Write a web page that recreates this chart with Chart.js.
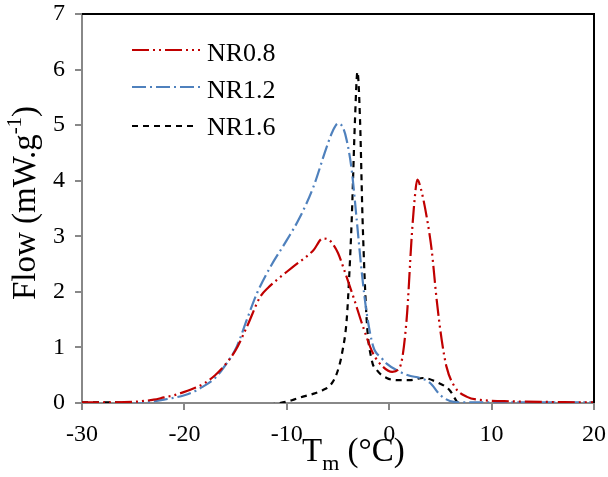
<!DOCTYPE html>
<html lang="en">
<head>
    <meta charset="UTF-8">
    <title>DSC flow curves</title>
    <script src="https://cdn.jsdelivr.net/npm/chart.js"></script>
    <style>
        body {
            margin: 0;
            background-color: white;
            font-family: 'Liberation Serif', serif;
        }
        #wrap {
            width: 608px;
            height: 477px;
        }
        .preload {
            position: absolute;
            left: -999px;
            top: 0;
            font-family: 'Liberation Serif';
        }
    </style>
</head>
<body>
    <div id="wrap"><canvas id="flowChart" width="608" height="477"></canvas></div>
    <span class="preload">NR0.8 Flow (mW.g) Tm (°C) -30 0 1</span>

    <script>
        // values
        const seriesNames = ['NR0.8', 'NR1.2', 'NR1.6'];

        const tempNR08 = [-30, -27, -25, -23, -22, -21, -20, -19, -18, -17, -16.2, -15, -13.9, -12.6, -11.8, -11, -9.4, -7.4, -6.5, -6,
            -5.5, -5, -4.5, -3.5, -2.55, -1.6, -0.6, 0.3, 1.05, 1.7, 2.2, 2.45, 2.75, 3.1, 3.66, 4.15, 4.64, 5.13, 5.6, 6.4,
            7.6, 9.2, 12, 15, 20];
        const flowNR08 = [0.01, 0.01, 0.02, 0.06, 0.1, 0.14, 0.2, 0.27, 0.36, 0.5, 0.65, 0.95, 1.37, 1.91, 2.08, 2.21, 2.45, 2.75, 2.96, 2.95,
            2.86, 2.7, 2.45, 1.91, 1.37, 0.9, 0.65, 0.56, 0.65, 1.5, 3.0, 3.6, 4.02, 3.85, 3.35, 2.75, 1.85, 1.13, 0.65, 0.29,
            0.11, 0.05, 0.03, 0.02, 0.01];

        const tempNR12 = [-30, -26, -24, -22, -20, -19, -18.5, -17, -16.2, -14.9, -13.9, -12.9, -11.6, -10, -8.7, -7.4, -6.1, -5.5, -5.0, -4.5,
            -4.15, -3.66, -3.17, -2.7, -2.2, -1.55, -0.8, -0.25, 1.05, 2.0, 3.0, 4.0, 5.0, 6.3, 8, 12, 20];
        const flowNR12 = [-0.02, -0.02, 0, 0.06, 0.14, 0.21, 0.26, 0.45, 0.63, 1.01, 1.5, 1.98, 2.45, 2.93, 3.35, 3.89, 4.61, 4.9, 5.03, 4.95,
            4.73, 4.19, 3.29, 2.39, 1.62, 1.01, 0.82, 0.71, 0.56, 0.49, 0.45, 0.36, 0.14, 0.02, 0.01, 0.01, 0.01];

        const tempNR16 = [-30, -27, -26, -25, -22, -18, -14, -11.5, -10.7, -9.5, -8.7, -7.5, -6.5, -5.7, -5.1, -4.6, -4.15, -3.9, -3.66, -3.34,
            -3.1, -2.85, -2.6, -2.2, -1.7, -1.2, -0.25, 1.05, 2.0, 3.3, 4.6, 5.9, 6.7, 7];
        const flowNR16 = [0.01, 0.01, 0, -0.03, -0.03, -0.03, -0.03, -0.02, 0, 0.05, 0.1, 0.16, 0.23, 0.33, 0.54, 0.9, 1.5, 2.3, 3.3, 5.1,
            5.96, 5.1, 3.3, 1.5, 0.77, 0.59, 0.45, 0.41, 0.41, 0.45, 0.38, 0.23, 0, -0.05];

        const xTicks = [-30, -20, -10, 0, 10, 20];
        const yTicks = [0, 1, 2, 3, 4, 5, 6, 7];

        const serif = '"Liberation Serif", "Times New Roman", Times, serif';
        const axisGrey = '#888888';

        function toPoints(xs, ys) {
            return xs.map((x, i) => ({ x: x, y: ys[i] }));
        }

        function makeSeries(label, xs, ys, color, dash) {
            return {
                label: label,
                data: toPoints(xs, ys),
                borderColor: color,
                backgroundColor: color,
                borderWidth: 2.2,
                borderDash: dash,
                pointRadius: 0,
                cubicInterpolationMode: 'monotone',
                fill: false
            };
        }

        // legend drawn inside the plot, like the original
        const insideLegend = {
            id: 'insideLegend',
            afterDatasetsDraw(chart) {
                const ctx = chart.ctx;
                const rows = [
                    { lineY: 50, textY: 61, x1: 132, x2: 200 },
                    { lineY: 87, textY: 98, x1: 132, x2: 200 },
                    { lineY: 126, textY: 135, x1: 132, x2: 194 }
                ];
                ctx.save();
                chart.data.datasets.forEach((ds, i) => {
                    const r = rows[i];
                    ctx.beginPath();
                    ctx.setLineDash(ds.borderDash);
                    ctx.strokeStyle = ds.borderColor;
                    ctx.lineWidth = 2.2;
                    ctx.moveTo(r.x1, r.lineY);
                    ctx.lineTo(r.x2, r.lineY);
                    ctx.stroke();
                    ctx.setLineDash([]);
                    ctx.fillStyle = '#000';
                    ctx.font = '26px ' + serif;
                    ctx.textAlign = 'left';
                    ctx.textBaseline = 'alphabetic';
                    ctx.fillText(ds.label, 207, r.textY);
                });
                ctx.restore();
            }
        };

        // top/right frame and axis titles with sub/superscripts
        const frameAndTitles = {
            id: 'frameAndTitles',
            afterDraw(chart) {
                const ctx = chart.ctx;
                const a = chart.chartArea;
                ctx.save();
                ctx.strokeStyle = '#000';
                ctx.lineWidth = 2;
                ctx.beginPath();
                ctx.moveTo(a.left, a.top);
                ctx.lineTo(a.right, a.top);
                ctx.lineTo(a.right, a.bottom);
                ctx.stroke();

                ctx.fillStyle = '#000';
                ctx.textBaseline = 'alphabetic';
                ctx.textAlign = 'left';

                // x title: T_m (°C)
                let x = 302;
                const base = 461;
                ctx.font = '33px ' + serif;
                ctx.fillText('T', x, base);
                x += ctx.measureText('T').width;
                ctx.font = '22px ' + serif;
                ctx.fillText('m', x, base + 9);
                x += ctx.measureText('m').width;
                ctx.font = '33px ' + serif;
                ctx.fillText(' (°C)', x, base);

                // y title: Flow (mW.g^-1), rotated
                ctx.translate(35, 300);
                ctx.rotate(-Math.PI / 2);
                let y = 0;
                ctx.font = '33px ' + serif;
                ctx.fillText('Flow (mW.g', y, 0);
                y += ctx.measureText('Flow (mW.g').width;
                ctx.font = '21px ' + serif;
                ctx.fillText('-1', y, -14);
                y += ctx.measureText('-1').width;
                ctx.font = '33px ' + serif;
                ctx.fillText(')', y, 0);
                ctx.restore();
            }
        };

        function drawChart() {
            const ctx = document.getElementById('flowChart').getContext('2d');
            new Chart(ctx, {
                type: 'line',
                data: {
                    datasets: [
                        makeSeries(seriesNames[0], tempNR08, flowNR08, '#C00000', [17, 4, 2, 4, 2, 4]),
                        makeSeries(seriesNames[1], tempNR12, flowNR12, '#4F81BD', [14, 4, 2, 4]),
                        makeSeries(seriesNames[2], tempNR16, flowNR16, '#000000', [6, 5])
                    ]
                },
                options: {
                    responsive: false,
                    animation: false,
                    devicePixelRatio: 1,
                    layout: { padding: { top: 14, right: 14, left: 0, bottom: 0 } },
                    plugins: {
                        legend: { display: false },
                        tooltip: { enabled: false }
                    },
                    scales: {
                        x: {
                            type: 'linear',
                            min: xTicks[0],
                            max: xTicks[xTicks.length - 1],
                            afterBuildTicks: (scale) => { scale.ticks = xTicks.map(v => ({ value: v })); },
                            afterFit: (scale) => {
                                scale.height = 74;
                                scale.paddingLeft = 0;
                                scale.paddingRight = 0;
                            },
                            ticks: {
                                color: '#000',
                                font: { family: serif, size: 24 },
                                padding: 10,
                                maxRotation: 0
                            },
                            grid: { drawOnChartArea: false, drawTicks: true, tickLength: 7, color: axisGrey, lineWidth: 2 },
                            border: { color: axisGrey, width: 2 }
                        },
                        y: {
                            min: yTicks[0],
                            max: yTicks[yTicks.length - 1],
                            afterBuildTicks: (scale) => { scale.ticks = yTicks.map(v => ({ value: v })); },
                            afterFit: (scale) => {
                                scale.width = 82;
                                scale.paddingTop = 0;
                                scale.paddingBottom = 0;
                            },
                            ticks: {
                                color: '#000',
                                font: { family: serif, size: 24 },
                                padding: 10
                            },
                            grid: { drawOnChartArea: false, drawTicks: true, tickLength: 7, color: axisGrey, lineWidth: 2 },
                            border: { color: axisGrey, width: 2 }
                        }
                    }
                },
                plugins: [insideLegend, frameAndTitles]
            });
        }

        if (document.fonts && document.fonts.load) {
            Promise.all([
                document.fonts.load('24px "Liberation Serif"'),
                document.fonts.load('33px "Liberation Serif"')
            ]).then(drawChart, drawChart);
        } else {
            drawChart();
        }
    </script>
</body>
</html>
